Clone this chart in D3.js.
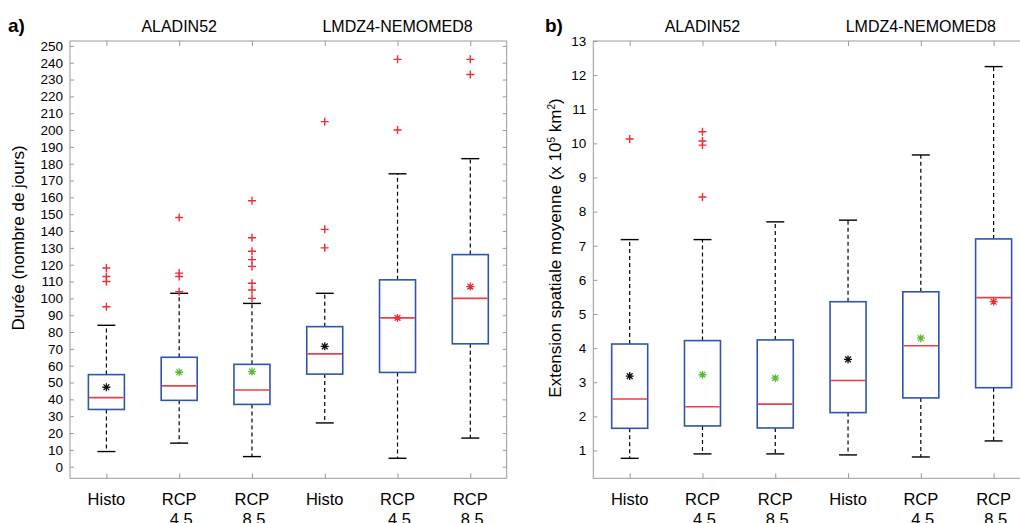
<!DOCTYPE html>
<html><head><meta charset="utf-8">
<script src="https://cdn.jsdelivr.net/npm/d3@7"></script>
<style>
html,body{margin:0;padding:0;background:#fff;}
svg{display:block;font-family:"Liberation Sans",Arial,Helvetica,sans-serif;}
</style></head>
<body>
<svg id="chart" width="1020" height="523"></svg>
<script>
// ---- data ----
const categories = ["Histo", "RCP|4.5", "RCP|8.5", "Histo", "RCP|4.5", "RCP|8.5"];
const models = ["ALADIN52", "LMDZ4-NEMOMED8"];

// Panel a) Durée (nombre de jours)
const durLow  = [9, 14, 6, 26, 5, 17];
const durQ1   = [34, 39.4, 37, 55, 56, 73];
const durMed  = [41, 48, 45.6, 67, 88.4, 100];
const durQ3   = [54.7, 65, 60.8, 83.2, 111, 126];
const durHigh = [84, 103, 97, 103, 174, 183];
const durMean = [47.2, 56.1, 56.5, 71.5, 88.4, 107];
const durOutliers = [[95, 110, 113, 118], [104, 113, 115, 148], [100, 105, 109, 119, 123, 128, 136, 158], [130, 141, 205], [200, 242], [233, 242]];
const durMeanColor = ["black", "green", "green", "black", "red", "red"];
const durTicks = d3.range(0, 251, 10);

// Panel b) Extension spatiale moyenne
const extLow  = [0.77, 0.9, 0.9, 0.87, 0.81, 1.28];
const extQ1   = [1.65, 1.72, 1.66, 2.11, 2.54, 2.84];
const extMed  = [2.51, 2.28, 2.36, 3.05, 4.07, 5.48];
const extQ3   = [4.12, 4.22, 4.24, 5.36, 5.65, 7.2];
const extHigh = [7.18, 7.18, 7.7, 7.75, 9.66, 12.25];
const extMean = [3.18, 3.22, 3.12, 3.67, 4.29, 5.36];
const extOutliers = [[10.13], [8.43, 9.95, 10.07, 10.34], [], [], [], []];
const extMeanColor = ["black", "green", "green", "black", "green", "red"];
const extTicks = d3.range(1, 14, 1);

// ---- styles ----
const COL = {box: "#2f55ac", med: "#e8404a", out: "#ee2b36", axis: "#9a9a9a",
  black: "#111", green: "#5cba37", red: "#ee2b36"};

const svg = d3.select("#chart");

function panel(opt) {
  const g = svg.append("g");
  const x = d3.scalePoint().domain(d3.range(categories.length)).range([opt.x0, opt.x1]).padding(0.5);
  const y = d3.scaleLinear().domain(opt.ydom).range([478.3, 41]);
  const bw = 36, cw = 18;

  // frame
  g.append("rect").attr("x", opt.x0).attr("y", 41).attr("width", opt.x1 - opt.x0).attr("height", 478.3 - 41)
    .attr("fill", "none").attr("stroke", COL.axis).attr("stroke-width", 1);

  // axes
  const ax = g.append("g").attr("transform", `translate(${opt.x0},0)`)
    .call(d3.axisLeft(y).tickValues(opt.ticks).tickSize(-4).tickPadding(7).tickFormat(d3.format("d")));
  ax.select(".domain").remove();
  ax.selectAll(".tick line").attr("stroke", COL.axis);
  ax.selectAll(".tick text").attr("fill", "#000").attr("font-size", 13.5).attr("font-family", null);

  const ar = g.append("g").attr("transform", `translate(${opt.x1},0)`)
    .call(d3.axisRight(y).tickValues(opt.ticks).tickSize(-4).tickFormat(""));
  ar.select(".domain").remove();
  ar.selectAll(".tick line").attr("stroke", COL.axis);

  const at = g.append("g").attr("transform", `translate(0,41)`)
    .call(d3.axisTop(x).tickSize(-5).tickFormat(""));
  at.select(".domain").remove();
  at.selectAll(".tick line").attr("stroke", COL.axis);
  const ab = g.append("g").attr("transform", `translate(0,478.3)`)
    .call(d3.axisBottom(x).tickSize(-5).tickFormat(""));
  ab.select(".domain").remove();
  ab.selectAll(".tick line").attr("stroke", COL.axis);

  // category labels
  categories.forEach((c, i) => {
    const parts = c.split("|");
    const t = g.append("text").attr("x", x(i)).attr("y", 504.5).attr("text-anchor", "middle")
      .attr("font-size", 16.5).attr("fill", "#000");
    parts.forEach((p, k) => t.append("tspan").attr("x", x(i) + (k ? 2 : 0)).attr("dy", k ? 20 : 0).text(p));
  });

  // model titles
  models.forEach((m, k) => {
    g.append("text").attr("x", x(1 + 3 * k)).attr("y", 32).attr("text-anchor", "middle")
      .attr("font-size", 16).attr("fill", "#000").text(m);
  });

  // panel letter
  g.append("text").attr("x", opt.letterX).attr("y", 32).attr("font-size", 19).attr("font-weight", "bold")
    .attr("fill", "#000").text(opt.letter);

  // y label
  const yl = g.append("text").attr("transform", `translate(${opt.ylabX},${opt.ylabY}) rotate(-90)`)
    .attr("text-anchor", "middle").attr("font-size", 17).attr("fill", "#000");
  opt.ylab.forEach(s => {
    const ts = yl.append("tspan").text(s.t);
    if (s.sup) ts.attr("font-size", 10).attr("dy", -6);
    if (s.after) ts.attr("dy", 6);
  });

  // boxes
  const d = opt.data;
  categories.forEach((c, i) => {
    const cx = x(i);
    // whiskers
    g.append("line").attr("x1", cx).attr("x2", cx).attr("y1", y(d.q3[i])).attr("y2", y(d.high[i]))
      .attr("stroke", "#000").attr("stroke-width", 1.2).attr("stroke-dasharray", "4,3");
    g.append("line").attr("x1", cx).attr("x2", cx).attr("y1", y(d.q1[i])).attr("y2", y(d.low[i]))
      .attr("stroke", "#000").attr("stroke-width", 1.2).attr("stroke-dasharray", "4,3");
    [d.high[i], d.low[i]].forEach(v => g.append("line").attr("x1", cx - cw / 2).attr("x2", cx + cw / 2)
      .attr("y1", y(v)).attr("y2", y(v)).attr("stroke", "#000").attr("stroke-width", 1.4));
    // box
    g.append("rect").attr("x", cx - bw / 2).attr("width", bw).attr("y", y(d.q3[i]))
      .attr("height", y(d.q1[i]) - y(d.q3[i])).attr("fill", "none").attr("stroke", COL.box).attr("stroke-width", 1.6);
    // median
    g.append("line").attr("x1", cx - bw / 2 + 0.8).attr("x2", cx + bw / 2 - 0.8).attr("y1", y(d.med[i])).attr("y2", y(d.med[i]))
      .attr("stroke", COL.med).attr("stroke-width", 1.6);
    // outliers
    d.out[i].forEach(v => {
      g.append("path").attr("d", `M${cx - 4},${y(v)}H${cx + 4}M${cx},${y(v) - 4}V${y(v) + 4}`)
        .attr("stroke", COL.out).attr("stroke-width", 1.4).attr("fill", "none");
    });
    // mean asterisk
    const my = y(d.mean[i]), r = 4, rr = 2.9;
    g.append("path").attr("d",
      `M${cx - r},${my}H${cx + r}M${cx},${my - r}V${my + r}M${cx - rr},${my - rr}L${cx + rr},${my + rr}M${cx - rr},${my + rr}L${cx + rr},${my - rr}`)
      .attr("stroke", COL[d.meanColor[i]]).attr("stroke-width", 1.3).attr("fill", "none");
  });
}

panel({
  x0: 70, x1: 506.7, ydom: [-6.9, 252.9], ticks: durTicks, letter: "a)", letterX: 8,
  ylabX: 24, ylabY: 238, ylab: [{t: "Durée (nombre de jours)"}],
  data: {low: durLow, q1: durQ1, med: durMed, q3: durQ3, high: durHigh, mean: durMean, out: durOutliers, meanColor: durMeanColor}
});
panel({
  x0: 593.3, x1: 1030, ydom: [0.185, 13], ticks: extTicks, letter: "b)", letterX: 545,
  ylabX: 561, ylabY: 248, ylab: [{t: "Extension spatiale moyenne (x 10"}, {t: "5", sup: true}, {t: " km", after: true}, {t: "2", sup: true}, {t: ")", after: true}],
  data: {low: extLow, q1: extQ1, med: extMed, q3: extQ3, high: extHigh, mean: extMean, out: extOutliers, meanColor: extMeanColor}
});
</script>
</body></html>
